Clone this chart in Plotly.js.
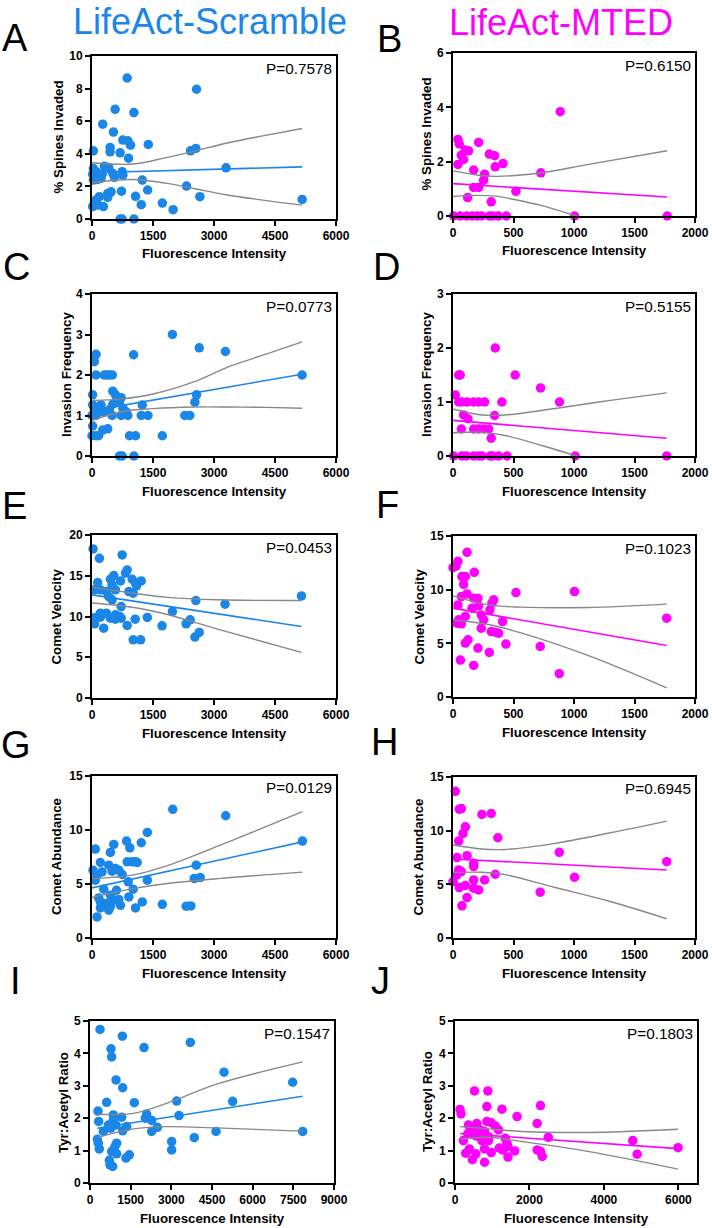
<!DOCTYPE html>
<html><head><meta charset="utf-8">
<script src="https://cdn.plot.ly/plotly-3.0.1.min.js"></script>
<style>html,body{margin:0;padding:0;background:#fff}#chart{width:712px;height:1228px}</style>
</head><body><div id="chart"></div>
<script>
// ---------- DATA ----------
// Panel A: LifeAct-Scramble, % Spines Invaded
const aX = [865,2571,569,1030,264,527,758,882,948,445,445,33,692,898,1384,2423,2554,3296,305,412,33,99,181,58,33,140,222,511,552,742,758,1236,2324,1368,725,470,387,387,181,99,58,16,280,140,1071,1211,1730,1994,2653,5167,692,742,1030,16,120,250];
const aY = [8.65,7.96,6.73,6.53,5.82,5.33,4.84,4.80,4.53,4.39,4.12,4.18,4.06,3.73,4.57,4.18,4.33,3.14,3.24,3.16,3.10,2.9,2.69,2.59,2.39,2.43,2.49,2.80,2.55,2.90,2.69,2.39,2.02,1.78,1.71,1.67,1.57,1.33,1.37,1.16,0.96,0.76,0.76,0.86,1.39,0.88,0.98,0.57,1.37,1.20,0,0,0,2.75,2.62,2.75];
const aFitX = [0,5167], aFitY = [2.84,3.20];
const aBandX = [0,1000,1800,2500,3300,4200,5167];
const aUpY = [3.45,3.37,3.75,4.15,4.65,5.1,5.55];
const aLoY = [2.22,2.42,2.2,1.87,1.49,1.16,0.85];
const aP = 'P=0.7578';

// Panel B: LifeAct-MTED, % Spines Invaded
const bX = [886,41,52,212,102,129,69,300,344,88,41,413,349,171,261,726,253,171,212,520,121,316,5,60,115,160,200,235,300,330,375,440,1005,1770];
const bY = [3.84,2.82,2.65,2.71,2.43,2.40,2.24,2.28,2.22,2.08,1.90,1.93,1.81,1.69,1.54,1.59,1.32,1.05,1.05,0.91,0.68,0.52,0,0,0,0,0,0,0,0,0,0,0,0];
const bFitX = [0,1770], bFitY = [1.19,0.70];
const bBandX = [0,210,350,515,735,1120,1770];
const bUpY = [1.66,1.50,1.46,1.49,1.59,1.90,2.40];
const bLoY = [0.72,0.76,0.73,0.60,0.38,-0.14,-1.0];
const bP = 'P=0.6150';

// Panel C: LifeAct-Scramble, Invasion Frequency
const cX = [1978,2637,3280,99,1022,58,99,300,370,430,500,5167,16,511,577,2571,717,2530,16,222,181,511,676,1236,288,428,758,840,99,0,99,494,717,882,1211,1376,2282,2406,16,264,387,0,99,165,923,1071,1730,676,742,1030];
const cY = [3.0,2.67,2.58,2.51,2.50,2.33,2,2,2,2,2,2.0,1.51,1.60,1.51,1.51,1.44,1.33,1.26,1.26,1.16,1.28,1.34,1.26,1.09,1.14,1.18,1.09,1.09,1,1,1,1,1,1,1,1,1,0.74,0.64,0.67,0.5,0.5,0.5,0.5,0.5,0.5,0,0,0];
const cFitX = [0,5167], cFitY = [1.12,2.02];
const cBandX = [0,750,1500,2500,3400,4300,5167];
const cUpY = [1.37,1.41,1.53,1.83,2.22,2.52,2.82];
const cLoY = [0.88,1.10,1.17,1.21,1.21,1.20,1.18];
const cP = 'P=0.0773';

// Panel D: LifeAct-MTED, Invasion Frequency
const dX = [349,47,60,514,724,19,47,74,116,171,212,261,404,880,88,124,344,69,171,212,253,294,316,5,74,110,171,212,239,308,327,377,446,1010,1766];
const dY = [2.0,1.5,1.5,1.5,1.26,1.13,1,1,1,1,1,1,1,1,0.76,0.69,0.75,0.5,0.5,0.5,0.5,0.5,0.33,0,0,0,0,0,0,0,0,0,0,0,0];
const dFitX = [0,1766], dFitY = [0.66,0.33];
const dBandX = [0,240,430,845,1300,1766];
const dUpY = [0.87,0.76,0.76,0.88,1.03,1.17];
const dLoY = [0.43,0.44,0.38,0.12,-0.2,-0.51];
const dP = 'P=0.5155';

// Panel E: LifeAct-Scramble, Comet Velocity
const eX = [25,181,742,865,824,536,453,989,1071,1211,700,140,494,1096,58,206,354,577,906,1013,412,494,717,2554,3271,5150,1978,206,354,577,684,82,206,453,577,717,1063,1360,66,865,288,1722,2315,2414,2637,2530,1013,1195];
const eY = [18.29,17.14,17.55,15.71,15.31,15.02,14.57,14.57,14.08,14.37,14.37,14.16,13.88,13.76,13.27,13.27,13.06,13.27,13.06,12.86,12.45,12.04,11.22,11.96,11.51,12.53,10.61,10.41,10.41,10.2,10.0,9.88,9.92,9.80,9.67,9.80,9.67,9.88,9.10,8.90,8.57,8.86,9.10,9.59,8.04,7.47,7.14,7.14];
const eFitX = [0,5150], eFitY = [12.65,8.78];
const eBandX = [0,1030,1850,3090,5150];
const eUpY = [13.6,12.85,12.35,12.05,11.96];
const eLoY = [11.65,11.1,10.25,8.45,5.6];
const eP = 'P=0.0453';

// Panel F: LifeAct-MTED, Comet Velocity
const fX = [116,41,0,25,176,74,102,88,520,1004,116,69,171,206,336,322,41,212,157,305,234,102,1766,47,253,410,33,69,234,316,349,377,124,102,437,721,206,300,61,171,878];
const fY = [13.48,12.64,12.05,12.2,11.62,11.22,11.22,10.5,9.73,9.82,9.6,9.36,9.2,9.2,9.05,8.74,8.58,8.49,8.27,8.12,7.65,7.5,7.34,7.19,7.19,7.03,6.88,6.82,6.41,6.10,6.04,5.95,5.33,5.02,4.93,4.71,4.56,4.15,3.44,2.94,2.17];
const fFitX = [0,1766], fFitY = [8.28,4.80];
const fBandX = [0,294,569,1120,1766];
const fUpY = [9.42,8.58,8.37,8.34,8.65];
const fLoY = [7.2,6.75,5.95,3.85,0.85];
const fP = 'P=0.1023';

// Panel G: LifeAct-Scramble, Comet Abundance
const gX = [1986,3288,5175,1360,849,536,1211,931,82,453,865,989,1071,1112,206,412,2563,577,659,25,247,494,742,124,82,1360,2513,2661,890,602,288,1013,165,206,453,906,659,536,1236,354,453,700,1071,1730,2315,2431,206,412,124];
const gY = [11.91,11.32,8.97,9.77,8.97,8.66,8.82,8.35,8.23,7.92,7.05,7.05,7.05,6.99,6.99,6.74,6.74,6.43,6.28,6.28,6.12,6.19,5.88,5.82,5.35,5.35,5.5,5.6,5.2,4.42,4.52,4.52,3.71,3.34,3.96,3.8,3.56,3.49,3.34,3.19,2.94,3.03,2.78,3.12,2.94,2.97,2.78,2.57,1.95];
const gFitX = [0,5175], gFitY = [4.64,8.9];
const gBandX = [0,1030,1854,3090,5175];
const gUpY = [5.5,5.85,6.7,8.5,11.7];
const gLoY = [3.75,4.6,5.05,5.5,6.1];
const gP = 'P=0.0129';

// Panel H: LifeAct-MTED, Comet Abundance
const hX = [19,69,52,239,316,102,83,371,47,878,33,116,1766,171,171,47,69,33,349,0,171,261,1004,52,102,171,212,721,116,74];
const hY = [13.67,12.06,12.0,11.51,11.6,10.36,9.74,9.34,9.03,7.98,7.49,7.67,7.11,6.96,6.65,6.34,6.19,5.88,5.94,5.26,5.41,5.41,5.66,4.7,4.89,4.64,4.48,4.27,3.77,3.0];
const hFitX = [0,1766], hFitY = [7.36,6.34];
const hBandX = [0,239,432,845,1300,1766];
const hUpY = [8.66,8.29,8.25,8.82,9.8,10.89];
const hLoY = [6.1,6.12,5.9,4.7,3.4,1.79];
const hP = 'P=0.6945';

// Panel I: LifeAct-Scramble, Tyr:Acetyl Ratio
const iX = [369,1193,775,799,1992,3701,4943,7475,959,1205,615,1635,3197,5262,295,320,861,861,1168,2090,2041,2275,3283,676,762,959,1352,1205,2484,2275,492,4648,7844,3848,270,307,344,984,922,3012,3012,799,984,1451,1328,713,738,836];
const iY = [4.74,4.53,4.14,3.89,4.18,4.34,3.42,3.11,3.18,2.94,2.49,2.48,2.53,2.52,2.22,1.90,2.10,1.95,2.03,2.13,2.0,1.93,2.08,1.79,1.69,1.79,1.74,1.61,1.72,1.59,1.59,1.59,1.59,1.40,1.35,1.23,1.05,1.23,1.13,1.28,1.02,0.97,0.9,0.87,0.77,0.70,0.56,0.51];
const iFitX = [270,7844], iFitY = [1.69,2.68];
const iBandX = [300,1600,2830,4670,7844];
const iUpY = [2.12,2.15,2.46,3.05,3.74];
const iLoY = [1.41,1.67,1.74,1.70,1.60];
const iP = 'P=0.1547';

// Panel J: LifeAct-MTED, Tyr:Acetyl Ratio
const jX = [523,883,135,162,856,1261,2297,1667,2207,2505,360,586,856,973,1081,1171,450,676,793,342,495,586,901,1351,1396,225,721,901,4775,387,793,1189,1279,1423,1604,2207,2297,5991,4892,288,559,973,468,1423,2342,793];
const jY = [2.84,2.84,2.27,2.13,2.36,2.28,2.39,2.05,1.84,1.41,1.79,1.84,1.90,1.86,1.76,1.64,1.64,1.64,1.59,1.52,1.49,1.45,1.43,1.38,1.23,1.31,1.31,1.31,1.31,1.05,1.05,1.08,1.02,1.13,0.99,1.02,0.97,1.09,0.89,0.92,0.90,0.94,0.72,0.80,0.82,0.64];
const jFitX = [135,5991], jFitY = [1.53,1.06];
const jBandX = [135,901,1802,3604,5991];
const jUpY = [1.74,1.67,1.59,1.56,1.66];
const jLoY = [1.36,1.41,1.28,0.97,0.43];
const jP = 'P=0.1803';

// Axis tick setups and labels
const letters = ['A','B','C','D','E','F','G','H','I','J'];
const yTitles = ['% Spines Invaded','% Spines Invaded','Invasion Frequency','Invasion Frequency','Comet Velocity','Comet Velocity','Comet Abundance','Comet Abundance','Tyr:Acetyl Ratio','Tyr:Acetyl Ratio'];
const xTitle = 'Fluorescence Intensity';
const colTitles = ['LifeAct-Scramble','LifeAct-MTED'];
const xRanges = [[0,6000],[0,2000],[0,6000],[0,2000],[0,6000],[0,2000],[0,6000],[0,2000],[0,9000],[0,6500]];
const xSteps  = [1500,500,1500,500,1500,500,1500,500,1500,2000];
const yRanges = [[0,10],[0,6],[0,4],[0,3],[0,20],[0,15],[0,15],[0,15],[0,5],[0,5]];
const ySteps  = [2,2,1,1,5,5,5,5,1,1];

// ---------- STYLE / LAYOUT ----------
const W = 712, H = 1228;
const BLUE = '#1a86e8', MAG = '#ff00ff', GREY = '#888888';
const FONT = "'Liberation Sans', Arial, Helvetica, sans-serif";
// plot boxes in pixels: [left, right, top, bottom]
const boxes = [
  [92,336,56,219],[453,695,53,216],
  [92,336,294,456],[453,695,294,456],
  [92,336,535,698],[453,695,536,697],
  [92,336,776,938],[453,695,777,938],
  [90,334,1021,1183],[455,697,1021,1183]
];
const yTitleX = [58,426,66,426,56,419,56,418,63,427];
const letterPos = [[15,38],[389,39],[16,267],[386,267],[14,506],[387,505],[16,745],[384,742],[15,981],[380,981]];

const panelData = [
  [aX,aY,aFitX,aFitY,aBandX,aUpY,aLoY,aP],
  [bX,bY,bFitX,bFitY,bBandX,bUpY,bLoY,bP],
  [cX,cY,cFitX,cFitY,cBandX,cUpY,cLoY,cP],
  [dX,dY,dFitX,dFitY,dBandX,dUpY,dLoY,dP],
  [eX,eY,eFitX,eFitY,eBandX,eUpY,eLoY,eP],
  [fX,fY,fFitX,fFitY,fBandX,fUpY,fLoY,fP],
  [gX,gY,gFitX,gFitY,gBandX,gUpY,gLoY,gP],
  [hX,hY,hFitX,hFitY,hBandX,hUpY,hLoY,hP],
  [iX,iY,iFitX,iFitY,iBandX,iUpY,iLoY,iP],
  [jX,jY,jFitX,jFitY,jBandX,jUpY,jLoY,jP]
];

const px = v => v / W;
const py = v => 1 - v / H;

const traces = [];
const layout = {
  width: W, height: H,
  margin: {l:0, r:0, t:0, b:0},
  paper_bgcolor: '#ffffff', plot_bgcolor: '#ffffff',
  showlegend: false, hovermode: false,
  font: {family: FONT, color: '#000'},
  annotations: []
};

panelData.forEach((p, k) => {
  const s = k === 0 ? '' : String(k + 1);
  const color = (k % 2 === 0) ? BLUE : MAG;
  const [l, r, t, b] = boxes[k];
  const xa = 'x' + s, ya = 'y' + s;
  traces.push({x: p[0], y: p[1], type: 'scatter', mode: 'markers', xaxis: xa, yaxis: ya,
    marker: {size: 9.5, color: color, line: {width: 0}}, cliponaxis: false, hoverinfo: 'skip'});
  traces.push({x: p[4], y: p[5], type: 'scatter', mode: 'lines', xaxis: xa, yaxis: ya,
    line: {color: GREY, width: 1.4, shape: 'spline', smoothing: 1}, hoverinfo: 'skip'});
  traces.push({x: p[4], y: p[6], type: 'scatter', mode: 'lines', xaxis: xa, yaxis: ya,
    line: {color: GREY, width: 1.4, shape: 'spline', smoothing: 1}, hoverinfo: 'skip'});
  traces.push({x: p[2], y: p[3], type: 'scatter', mode: 'lines', xaxis: xa, yaxis: ya,
    line: {color: color, width: 1.6}, hoverinfo: 'skip'});

  const common = {
    showline: true, linecolor: '#000', linewidth: 2, mirror: true,
    ticks: 'outside', ticklen: 5, tickwidth: 2, tickcolor: '#000',
    showgrid: false, zeroline: false, fixedrange: true, tick0: 0,
    tickfont: {family: FONT, size: 12, color: '#000', weight: 'bold'}
  };
  layout['xaxis' + s] = Object.assign({}, common, {
    domain: [px(l), px(r)], range: xRanges[k], dtick: xSteps[k], anchor: ya
  });
  layout['yaxis' + s] = Object.assign({}, common, {
    domain: [py(b), py(t)], range: yRanges[k], dtick: ySteps[k], anchor: xa
  });

  // P value
  layout.annotations.push({xref: 'paper', yref: 'paper', x: px(r - 2), y: py(t + 12),
    xanchor: 'right', yanchor: 'middle', showarrow: false, text: p[7],
    font: {family: FONT, size: 15.3, color: '#000'}});
  // x title
  layout.annotations.push({xref: 'paper', yref: 'paper', x: px((l + r) / 2), y: py(b + 35),
    xanchor: 'center', yanchor: 'middle', showarrow: false, text: xTitle,
    font: {family: FONT, size: 13.3, color: '#000', weight: 'bold'}});
  // y title
  layout.annotations.push({xref: 'paper', yref: 'paper', x: px(yTitleX[k]), y: py((t + b) / 2),
    xanchor: 'center', yanchor: 'middle', showarrow: false, textangle: -90, text: yTitles[k],
    font: {family: FONT, size: 13.3, color: '#000', weight: 'bold'}});
  // panel letter
  layout.annotations.push({xref: 'paper', yref: 'paper', x: px(letterPos[k][0]), y: py(letterPos[k][1]),
    xanchor: 'center', yanchor: 'middle', showarrow: false, text: letters[k],
    font: {family: FONT, size: 38, color: '#000'}});
});

// column titles
layout.annotations.push({xref: 'paper', yref: 'paper', x: px(210), y: py(21), xanchor: 'center', yanchor: 'middle',
  showarrow: false, text: colTitles[0], font: {family: FONT, size: 36, color: BLUE}});
layout.annotations.push({xref: 'paper', yref: 'paper', x: px(561), y: py(22), xanchor: 'center', yanchor: 'middle',
  showarrow: false, text: colTitles[1], font: {family: FONT, size: 36, color: MAG}});

Plotly.newPlot('chart', traces, layout, {staticPlot: true, displayModeBar: false});
</script>
</body></html>
